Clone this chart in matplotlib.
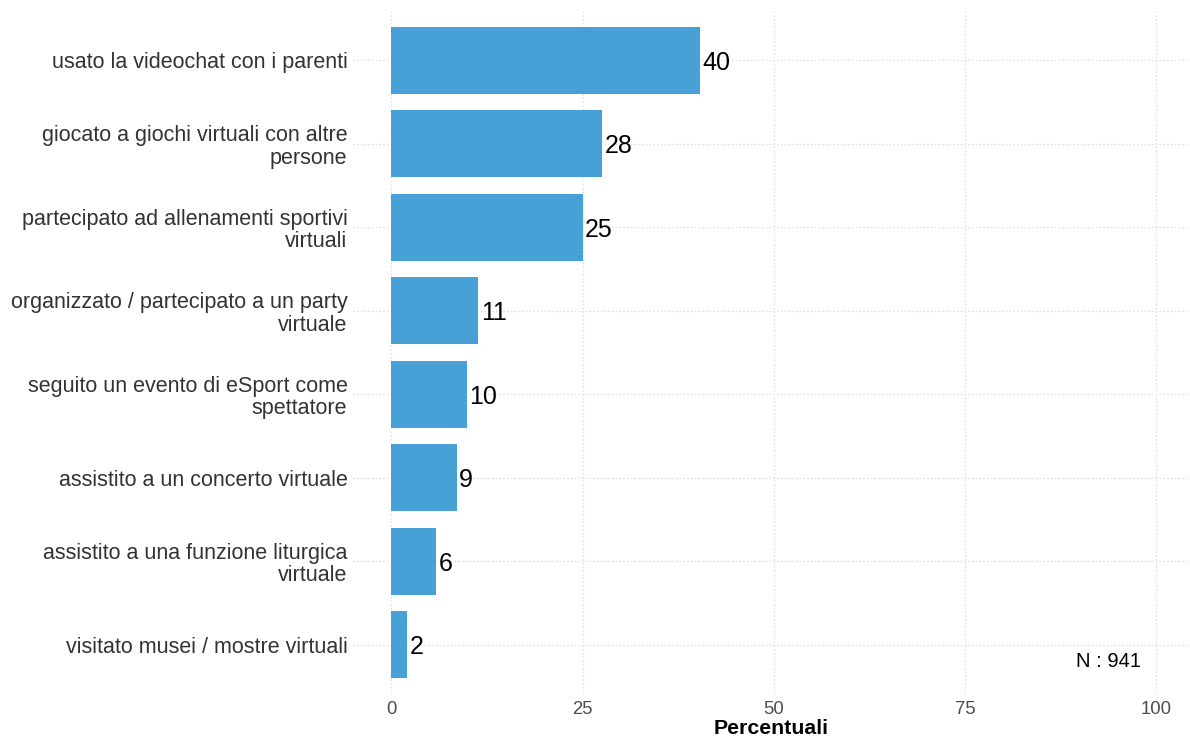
import numpy as np
import matplotlib.pyplot as plt

plt.rcParams['font.family'] = ['Liberation Sans', 'DejaVu Sans']

categories = [
    "usato la videochat con i parenti",
    "giocato a giochi virtuali con altre\npersone",
    "partecipato ad allenamenti sportivi\nvirtuali",
    "organizzato / partecipato a un party\nvirtuale",
    "seguito un evento di eSport come\nspettatore",
    "assistito a un concerto virtuale",
    "assistito a una funzione liturgica\nvirtuale",
    "visitato musei / mostre virtuali",
]
values = [40.3, 27.6, 25.0, 11.4, 9.9, 8.6, 5.9, 2.1]
x_ticks = [0, 25, 50, 75, 100]
n_total = 941

fig = plt.figure(figsize=(11.9, 7.4), dpi=100)
ax = fig.add_axes([353 / 1190, 45 / 740, (1190 - 353) / 1190, 685 / 740])

ypos = np.arange(len(categories))[::-1] + 1
ax.barh(ypos, values, height=0.8, color='#47A0D6', zorder=2)

for y, v in zip(ypos, values):
    ax.text(v + 0.3, y, "%d" % round(v), va='center_baseline', ha='left',
            fontsize=18, color='black', zorder=3)

ax.text(93.8, 0.8, "N : %d" % n_total, ha='center', va='center',
        fontsize=14.5, color='black')

ax.set_xlim(-5, 104.4)
ax.set_ylim(0.4, len(categories) + 0.6)
ax.set_xticks(x_ticks)
ax.set_xticklabels([str(t) for t in x_ticks], fontsize=13.3, color='#4d4d4d')
ax.set_yticks(ypos)
ax.set_yticklabels(categories, fontsize=15.5, color='#333333', linespacing=1.1,
                   multialignment='right')
ax.tick_params(length=0, pad=4)
ax.tick_params(axis='y', pad=4)

ax.grid(True, linestyle=(0, (1, 2)), color='#d9d9d9', linewidth=0.9, zorder=0)
ax.set_axisbelow(True)
for s in ax.spines.values():
    s.set_visible(False)

ax.set_xlabel("Percentuali", fontsize=15.3, fontweight='bold', labelpad=1)

fig.savefig("out.png", dpi=100)
